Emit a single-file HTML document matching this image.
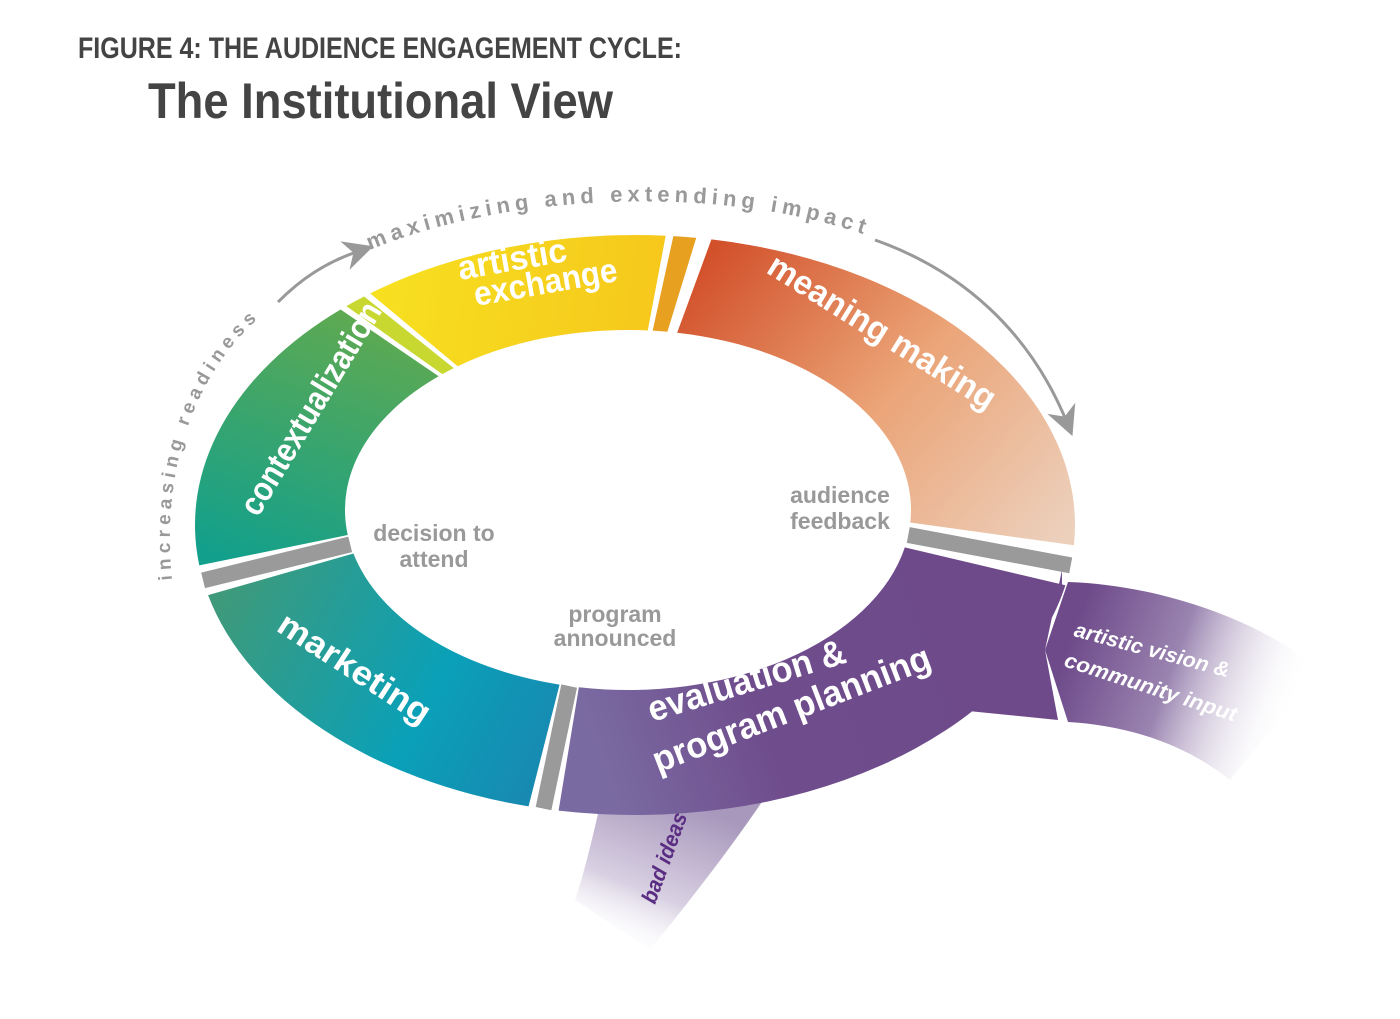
<!DOCTYPE html>
<html><head><meta charset="utf-8"><style>
body{margin:0;background:#fff;width:1400px;height:1014px;overflow:hidden}
svg text{font-family:"Liberation Sans",sans-serif;font-weight:bold}
</style></head><body>
<svg id="s" width="1400" height="1014" viewBox="0 0 1400 1014" xmlns="http://www.w3.org/2000/svg">
<defs>
<linearGradient id="gM" gradientUnits="userSpaceOnUse" x1="720" y1="240" x2="1060" y2="540"><stop offset="0" stop-color="#d2502a"/><stop offset="0.5" stop-color="#eba477"/><stop offset="1" stop-color="#ecd0bc"/></linearGradient>
<linearGradient id="gE" gradientUnits="userSpaceOnUse" x1="600" y1="760" x2="1000" y2="620"><stop offset="0" stop-color="#7a6aa2"/><stop offset="0.4" stop-color="#6f4c8c"/><stop offset="1" stop-color="#6e4a8a"/></linearGradient>
<linearGradient id="gK" gradientUnits="userSpaceOnUse" x1="220" y1="600" x2="560" y2="780"><stop offset="0" stop-color="#3e9a7a"/><stop offset="0.6" stop-color="#0aa0b8"/><stop offset="1" stop-color="#1a86b0"/></linearGradient>
<linearGradient id="gC" gradientUnits="userSpaceOnUse" x1="330" y1="290" x2="230" y2="560"><stop offset="0" stop-color="#62aa4e"/><stop offset="1" stop-color="#12a08c"/></linearGradient>
<linearGradient id="gY" gradientUnits="userSpaceOnUse" x1="380" y1="260" x2="660" y2="300"><stop offset="0" stop-color="#f7e020"/><stop offset="1" stop-color="#f6c81c"/></linearGradient>
<linearGradient id="gV" gradientUnits="userSpaceOnUse" x1="1070" y1="640" x2="1290" y2="720"><stop offset="0" stop-color="#6e4a8a"/><stop offset="0.45" stop-color="#9a84b0"/><stop offset="1" stop-color="#fff" stop-opacity="0"/></linearGradient>
<linearGradient id="gB" gradientUnits="userSpaceOnUse" x1="680" y1="800" x2="620" y2="950"><stop offset="0" stop-color="#a898bc"/><stop offset="0.6" stop-color="#d8d0e2"/><stop offset="1" stop-color="#fff" stop-opacity="0"/></linearGradient>
<marker id="ar" markerWidth="10" markerHeight="10" refX="6" refY="5" orient="auto"><path d="M0,0 L10,5 L0,10 L3,5Z" fill="#999"/></marker>
</defs>
<text x="78" y="58" font-size="30" fill="#444" textLength="604" lengthAdjust="spacingAndGlyphs">FIGURE 4: THE AUDIENCE ENGAGEMENT CYCLE:</text>
<text x="148" y="118" font-size="50" fill="#444" textLength="465" lengthAdjust="spacingAndGlyphs">The Institutional View</text>
<path d="M1068,582 C1160,585 1260,620 1320,670 L1230,780 C1180,740 1120,725 1068,722 L1045,650 Z" fill="url(#gV)"/>
<path d="M600,805 L770,790 C730,850 690,900 650,950 L575,900 C585,870 592,840 600,805Z" fill="url(#gB)"/>
<g id="ring"></g>
<path d="M278,302 C300,280 325,262 362,250" fill="none" stroke="#999" stroke-width="3" marker-end="url(#ar)"/>
<path d="M875,240 C960,270 1030,330 1068,425" fill="none" stroke="#999" stroke-width="3" marker-end="url(#ar)"/>
<path id="tp1" d="M172,580 C160,460 200,360 275,305" fill="none"/>
<text font-size="19" fill="#999" letter-spacing="5"><textPath href="#tp1">increasing readiness</textPath></text>
<path id="tp2" d="M370,250 C500,195 720,180 880,240" fill="none"/>
<text font-size="22" fill="#999" letter-spacing="5"><textPath href="#tp2">maximizing and extending impact</textPath></text>
<g fill="#fff">
<text x="460" y="280" font-size="34" transform="rotate(-10 460 280)" textLength="110" lengthAdjust="spacingAndGlyphs">artistic</text>
<text x="476" y="306" font-size="34" transform="rotate(-10 476 306)" textLength="145" lengthAdjust="spacingAndGlyphs">exchange</text>
<text x="765" y="272" font-size="34" transform="rotate(32 765 272)" textLength="262" lengthAdjust="spacingAndGlyphs">meaning making</text>
<text x="258" y="518" font-size="34" transform="rotate(-59 258 518)" textLength="242" lengthAdjust="spacingAndGlyphs">contextualization</text>
<text x="275" y="630" font-size="34" transform="rotate(33 275 630)" textLength="175" lengthAdjust="spacingAndGlyphs">marketing</text>
<text x="652" y="722" font-size="36" transform="rotate(-17 652 722)" textLength="205" lengthAdjust="spacingAndGlyphs">evaluation &amp;</text>
<text x="658" y="773" font-size="36" transform="rotate(-21 658 773)" textLength="295" lengthAdjust="spacingAndGlyphs">program planning</text>
<text x="1073" y="636" font-size="21" font-style="italic" transform="rotate(15 1073 636)" textLength="160" lengthAdjust="spacingAndGlyphs">artistic vision &amp;</text>
<text x="1063" y="666" font-size="21" font-style="italic" transform="rotate(18 1063 666)" textLength="180" lengthAdjust="spacingAndGlyphs">community input</text>
</g>
<text x="655" y="905" font-size="22" font-style="italic" fill="#5a2d82" transform="rotate(-70 655 905)" textLength="95" lengthAdjust="spacingAndGlyphs">bad ideas</text>
<g fill="#999" font-size="23" text-anchor="middle">
<text x="840" y="503">audience</text><text x="840" y="529">feedback</text>
<text x="434" y="541">decision to</text><text x="434" y="567">attend</text>
<text x="615" y="622">program</text><text x="615" y="646">announced</text>
</g>
</svg>
<script>
var cx=635,cy=525,R=440,Ry=290,ix=628,iy=510,r=283,ry=180;
function o(a){a*=Math.PI/180;return [cx+R*Math.cos(a),cy+Ry*Math.sin(a)]}
function n(a){a*=Math.PI/180;return [ix+r*Math.cos(a),iy+ry*Math.sin(a)]}
function sec(a1,a2,f){var p1=o(a1),p2=o(a2),q2=n(a2),q1=n(a1),l=(a2-a1)>180?1:0;
return '<path d="M'+p1+' A'+R+' '+Ry+' 0 '+l+' 1 '+p2+' L'+q2+' A'+r+' '+ry+' 0 '+l+' 0 '+q1+' Z" fill="'+f+'"/>';}
var h='';
h+=sec(-80,4,'url(#gM)');
h+=sec(12,100,'url(#gE)');
h+='<path d="M'+o(14)+' L1062,570 L1045,650 L1058,720 L'+o(40)+'Z" fill="#6e4a8a"/>';
h+=sec(104,166,'url(#gK)');
h+=sec(172,228,'url(#gC)');
h+=sec(233,274,'url(#gY)');
h+=sec(275,278,'#e8a020');
h+=sec(229,232,'#c8d830');
function sep(a){var p=o(a),q=n(a);return '<path d="M'+p[0]+','+p[1]+' L'+q[0]+','+q[1]+'" stroke="#9a9a9a" stroke-width="16"/>';}
h+=sep(8)+sep(102)+sep(169);
document.getElementById('ring').innerHTML=h;
</script>
</body></html>
